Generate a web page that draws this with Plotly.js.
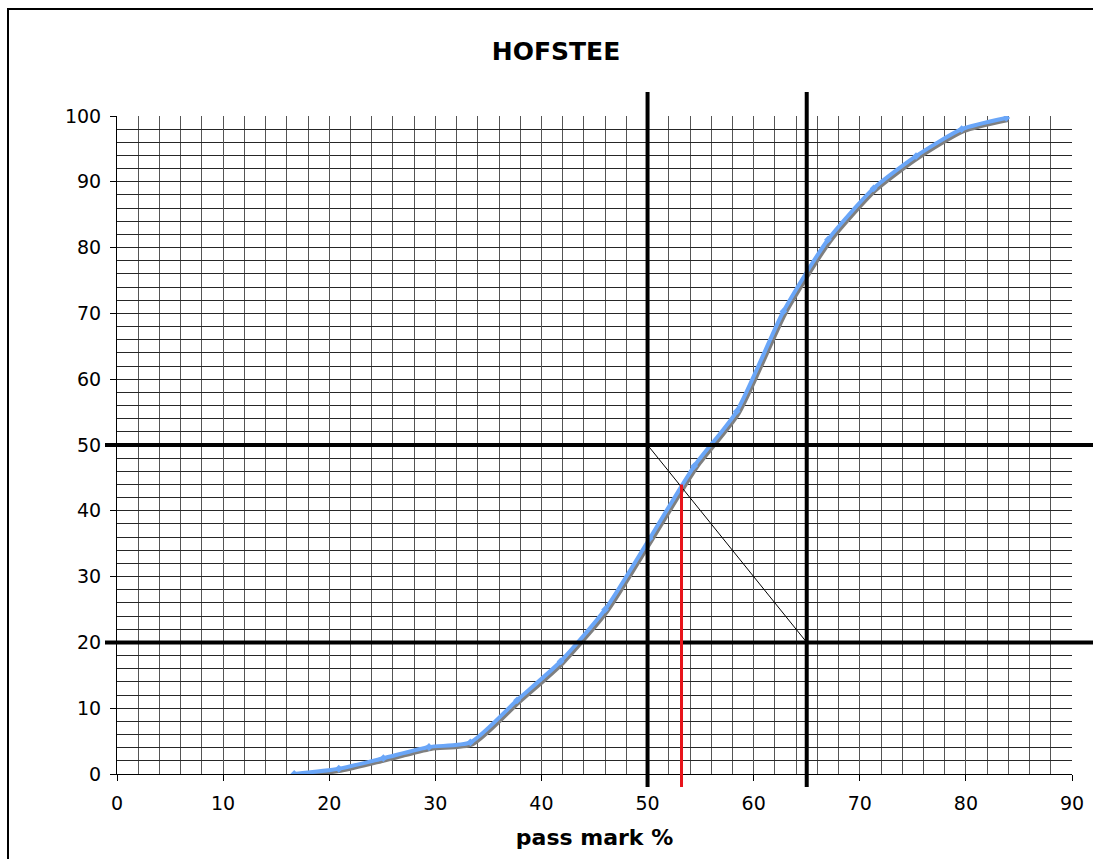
<!DOCTYPE html>
<html>
<head>
<meta charset="utf-8">
<script src="https://cdn.plot.ly/plotly-3.0.1.min.js"></script>
<style>
  html, body { margin: 0; padding: 0; background: #fff; }
  #chart { width: 1093px; height: 859px; }
</style>
</head>
<body>
<div id="chart"></div>
<script>
// ---- data ----
const passMark = [16.7, 20.9, 25.1, 29.4, 33.3, 37.7, 41.8, 46.0, 50.2, 54.4, 58.4, 62.8, 67.0, 71.3, 75.3, 79.6, 83.8];
const cumulativeFail = [0, 0.8, 2.4, 4.1, 4.8, 11.2, 17.1, 25.0, 35.8, 46.8, 55.1, 70.3, 81.2, 89.0, 93.9, 98.0, 99.7];
const minPassMark = 50;
const maxPassMark = 65;
const minFailRate = 20;
const maxFailRate = 50;
const cutScore = 53.2;
const cutFailRate = 44.0;
const xTickLabels = ['0', '10', '20', '30', '40', '50', '60', '70', '80', '90'];
const yTickLabels = ['0', '10', '20', '30', '40', '50', '60', '70', '80', '90', '100'];

// ---- layout geometry ----
const W = 1093, H = 859;
const M = { l: 117, r: 21, t: 116, b: 85 };
const plotW = W - M.l - M.r, plotH = H - M.t - M.b;
const xr = [0, 90], yr = [0, 100];
const xp = v => (v - xr[0]) / (xr[1] - xr[0]);
const yp = v => (v - yr[0]) / (yr[1] - yr[0]);
const pxX = px => px / plotW;   // pixel offset -> paper
const pxY = px => px / plotH;

const FONT = 'DejaVu Sans, Verdana, sans-serif';
const xTickVals = xTickLabels.map(Number);
const yTickVals = yTickLabels.map(Number);

// minor grid every 2 units
const minorStep = 2;
const steps = (r) => { const a = []; for (let v = r[0]; v <= r[1] + 1e-9; v += minorStep) a.push(v); return a; };
const xMinor = steps(xr), yMinor = steps(yr);

// shadow offset (pixels) expressed as range shift
const sdx = 2 * (xr[1] - xr[0]) / plotW;
const sdy = 2 * (yr[1] - yr[0]) / plotH;

const traces = [
  { // shadow
    x: passMark, y: cumulativeFail, xaxis: 'x2', yaxis: 'y2',
    mode: 'lines', line: { color: '#7f7f7f', width: 4, shape: 'spline', smoothing: 0.6 },
    hoverinfo: 'skip', showlegend: false
  },
  { // curve
    x: passMark, y: cumulativeFail, xaxis: 'x3', yaxis: 'y3',
    mode: 'lines+markers', line: { color: '#6AA6F8', width: 4, shape: 'spline', smoothing: 0.6 },
    marker: { symbol: 'diamond', size: 6, color: '#6AA6F8' },
    showlegend: false
  }
];

const gridX = '#555555', gridY = '#262626';

const shapes = [];
// chart frame (left and top edges visible)
shapes.push({ type: 'rect', xref: 'paper', yref: 'paper',
  x0: pxX(8 - M.l), x1: pxX(1140 - M.l), y0: pxY(M.t + plotH - 900), y1: pxY(M.t + plotH - 9),
  line: { color: '#000', width: 2 }, fillcolor: 'rgba(0,0,0,0)', layer: 'above' });
// vertical thick lines (pass mark limits)
[minPassMark, maxPassMark].forEach(v => shapes.push({
  type: 'line', xref: 'paper', yref: 'paper', layer: 'above',
  x0: xp(v), x1: xp(v), y0: yp(yr[0]) - pxY(13), y1: yp(yr[1]) + pxY(24),
  line: { color: '#000', width: 4 } }));
// horizontal thick lines (fail rate limits)
[minFailRate, maxFailRate].forEach(v => shapes.push({
  type: 'line', xref: 'paper', yref: 'paper', layer: 'above',
  x0: xp(xr[0]) - pxX(12), x1: 1 + pxX(40), y0: yp(v), y1: yp(v),
  line: { color: '#000', width: 4 } }));
// diagonal
shapes.push({ type: 'line', xref: 'x', yref: 'y', layer: 'above',
  x0: minPassMark, y0: maxFailRate, x1: maxPassMark, y1: minFailRate,
  line: { color: '#000', width: 1 } });
// red cut score line
shapes.push({ type: 'line', xref: 'paper', yref: 'paper', layer: 'above',
  x0: xp(cutScore), x1: xp(cutScore), y0: yp(yr[0]) - pxY(13), y1: yp(cutFailRate),
  line: { color: '#e8141b', width: 3 } });

const axisCommon = {
  showline: true, linecolor: '#000', linewidth: 1, mirror: false,
  zeroline: false, ticks: 'outside', ticklen: 6, tickcolor: '#000', tickwidth: 1,
  tickfont: { family: FONT, size: 19, color: '#000' },
  fixedrange: true
};

const layout = {
  width: W, height: H,
  margin: M,
  paper_bgcolor: '#fff', plot_bgcolor: '#fff',
  showlegend: false,
  title: { text: 'HOFSTEE', xref: 'paper', x: xp(0) + pxX(556 - M.l), xanchor: 'center',
           yref: 'container', y: 1 - 51 / H, yanchor: 'middle',
           font: { family: FONT, size: 25, weight: 'bold', color: '#000' } },
  xaxis: Object.assign({}, axisCommon, {
    range: xr, tickmode: 'array', tickvals: xTickVals, ticktext: xTickLabels,
    ticklabelstandoff: 6,
    showgrid: true, gridcolor: gridX, gridwidth: 1,
    minor: { tickmode: 'array', tickvals: xMinor, showgrid: true, gridcolor: gridX, gridwidth: 1, ticks: '' },
    title: { text: 'pass mark %', standoff: 16, font: { family: FONT, size: 22, weight: 'bold', color: '#000' } }
  }),
  yaxis: Object.assign({}, axisCommon, {
    range: yr, tickmode: 'array', tickvals: yTickVals, ticktext: yTickLabels,
    ticklabelstandoff: 5,
    showgrid: true, gridcolor: gridY, gridwidth: 1,
    minor: { tickmode: 'array', tickvals: yMinor, showgrid: true, gridcolor: gridY, gridwidth: 1, ticks: '' }
  }),
  xaxis2: { overlaying: 'x', range: [xr[0] - sdx, xr[1] - sdx], visible: false, fixedrange: true },
  yaxis2: { overlaying: 'y', range: [yr[0] + sdy, yr[1] + sdy], visible: false, fixedrange: true },
  xaxis3: { overlaying: 'x', range: xr, visible: false, fixedrange: true },
  yaxis3: { overlaying: 'y', range: yr, visible: false, fixedrange: true },
  shapes: shapes
};

Plotly.newPlot('chart', traces, layout, { displayModeBar: false, staticPlot: true });
</script>
</body>
</html>
